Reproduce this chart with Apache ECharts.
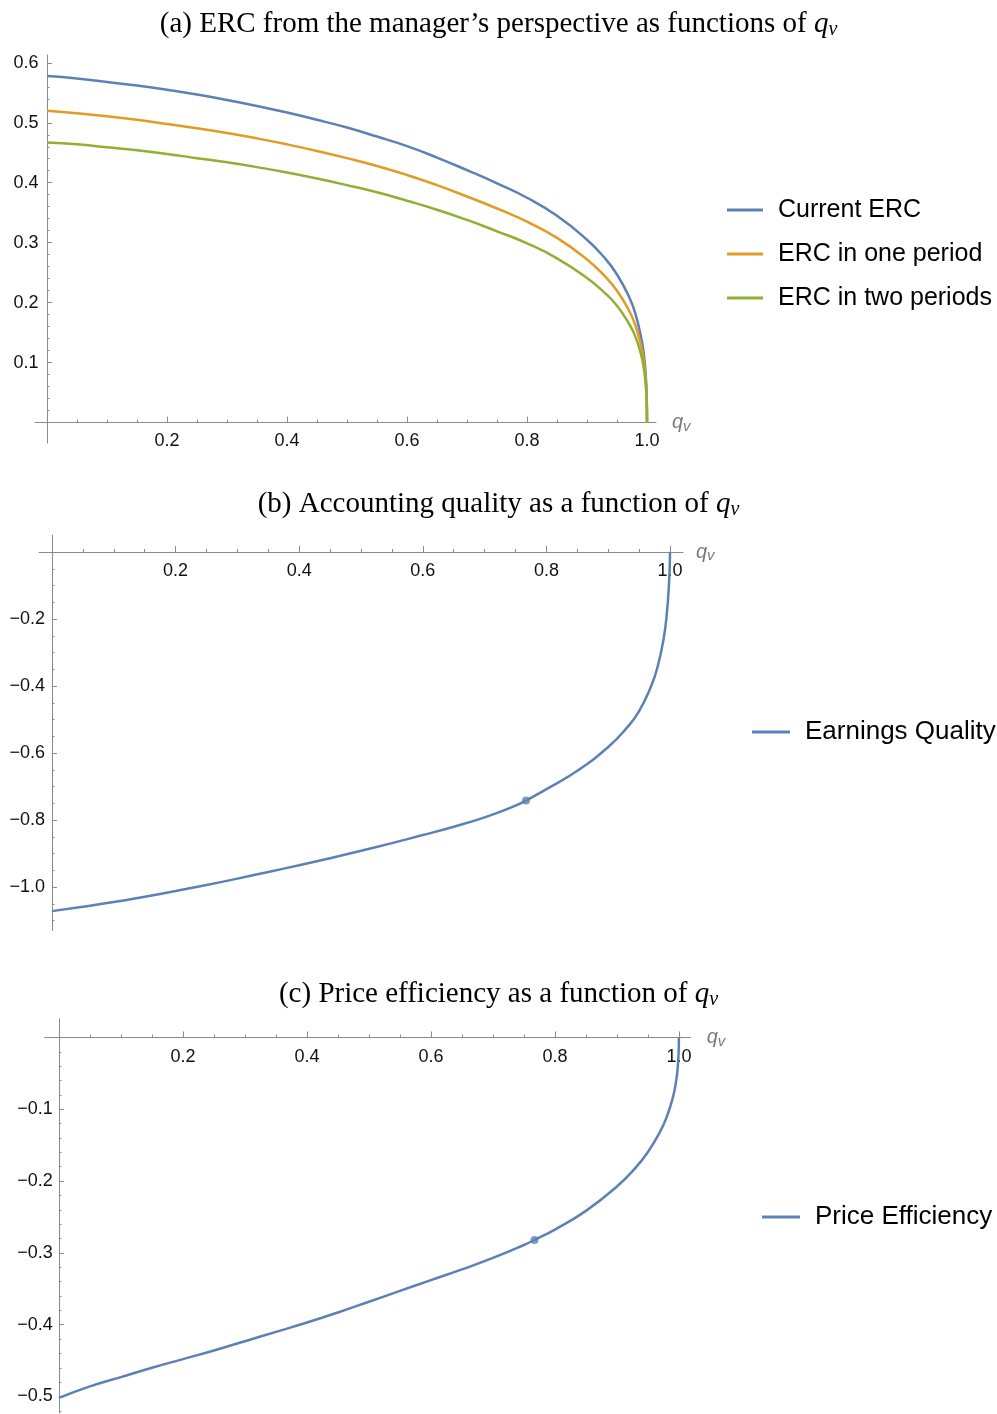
<!DOCTYPE html>
<html><head><meta charset="utf-8">
<script src="https://cdn.jsdelivr.net/npm/echarts@6/dist/echarts.min.js"></script>
<style>html,body{margin:0;padding:0;background:#fff}#c{width:997px;height:1414px}</style>
</head><body><div id="c"></div>
<script>
// ---------- data ----------
const qA = [0, 0.05, 0.1, 0.15, 0.2, 0.25, 0.3, 0.35, 0.4, 0.45, 0.5, 0.55, 0.6, 0.65, 0.7, 0.75, 0.8, 0.85, 0.9, 0.93, 0.95, 0.97, 0.98, 0.99, 0.995, 0.998, 0.9995, 1];
const currentERC = [0.578, 0.574, 0.568, 0.562, 0.555, 0.547, 0.538, 0.528, 0.517, 0.505, 0.492, 0.477, 0.461, 0.442, 0.421, 0.399, 0.375, 0.345, 0.305, 0.274, 0.247, 0.210, 0.184, 0.143, 0.112, 0.078, 0.045, 0];
const ercOnePeriod = [0.520, 0.516, 0.511, 0.505, 0.498, 0.491, 0.483, 0.474, 0.464, 0.453, 0.441, 0.428, 0.413, 0.396, 0.377, 0.357, 0.335, 0.308, 0.272, 0.244, 0.220, 0.187, 0.164, 0.129, 0.100, 0.069, 0.040, 0];
const ercTwoPeriods = [0.467, 0.464, 0.459, 0.454, 0.448, 0.441, 0.434, 0.426, 0.417, 0.407, 0.396, 0.384, 0.370, 0.355, 0.338, 0.319, 0.299, 0.274, 0.241, 0.216, 0.195, 0.165, 0.145, 0.114, 0.088, 0.061, 0.035, 0];

const qB = [0, 0.05, 0.1, 0.15, 0.2, 0.25, 0.3, 0.35, 0.4, 0.45, 0.5, 0.55, 0.6, 0.65, 0.7, 0.75, 0.767, 0.8, 0.85, 0.9, 0.93, 0.95, 0.97, 0.98, 0.99, 0.995, 0.998, 0.9995, 1];
const earningsQuality = [-1.072, -1.059, -1.045, -1.029, -1.012, -0.994, -0.975, -0.955, -0.935, -0.914, -0.892, -0.869, -0.845, -0.820, -0.792, -0.757, -0.742, -0.708, -0.653, -0.582, -0.525, -0.475, -0.398, -0.342, -0.255, -0.180, -0.105, -0.045, 0];
const markerB = [0.767, -0.742];

const qC = [0, 0.05, 0.1, 0.15, 0.2, 0.25, 0.3, 0.35, 0.4, 0.45, 0.5, 0.55, 0.6, 0.65, 0.7, 0.75, 0.767, 0.8, 0.85, 0.9, 0.93, 0.95, 0.97, 0.98, 0.99, 0.995, 0.998, 0.9995, 1];
const priceEfficiency = [-0.502, -0.486, -0.473, -0.460, -0.448, -0.436, -0.423, -0.410, -0.397, -0.383, -0.368, -0.353, -0.338, -0.323, -0.307, -0.289, -0.282, -0.2675, -0.2415, -0.2075, -0.1815, -0.1595, -0.1305, -0.1115, -0.0845, -0.0635, -0.0425, -0.020, 0];
const markerC = [0.767, -0.282];

// ---------- tick labels ----------
const xMajor = [0.2, 0.4, 0.6, 0.8, 1.0];
const xMinor = [0.05, 0.1, 0.15, 0.25, 0.3, 0.35, 0.45, 0.5, 0.55, 0.65, 0.7, 0.75, 0.85, 0.9, 0.95];
const yMajorA = [0.1, 0.2, 0.3, 0.4, 0.5, 0.6];
const yMinorA = [0.02, 0.04, 0.06, 0.08, 0.12, 0.14, 0.16, 0.18, 0.22, 0.24, 0.26, 0.28, 0.32, 0.34, 0.36, 0.38, 0.42, 0.44, 0.46, 0.48, 0.52, 0.54, 0.56, 0.58];
const yMajorB = [-0.2, -0.4, -0.6, -0.8, -1.0];
const yMinorB = [-0.05, -0.1, -0.15, -0.25, -0.3, -0.35, -0.45, -0.5, -0.55, -0.65, -0.7, -0.75, -0.85, -0.9, -0.95, -1.05, -1.1];
const yMajorC = [-0.1, -0.2, -0.3, -0.4, -0.5];
const yMinorC = [-0.02, -0.04, -0.06, -0.08, -0.12, -0.14, -0.16, -0.18, -0.22, -0.24, -0.26, -0.28, -0.32, -0.34, -0.36, -0.38, -0.42, -0.44, -0.46, -0.48, -0.52];

const titles = [
  '(a) ERC from the manager\u2019s perspective as functions of {q|q}{v|v}',
  '(b) Accounting quality as a function of {q|q}{v|v}',
  '(c) Price efficiency as a function of {q|q}{v|v}'
];
const seriesNames = ['Current ERC', 'ERC in one period', 'ERC in two periods', 'Earnings Quality', 'Price Efficiency'];
const colors = ['#5e81b5', '#e19c24', '#8fb032'];

// ---------- styles ----------
const AX = '#8a8a8a';
const LBL = { fontFamily: 'Liberation Sans', fontSize: 18, color: '#111' };
const fmt = v => (v < 0 ? '\u2212' : '') + Math.abs(v).toFixed(1);
const titleRich = {
  q: { fontFamily: 'Liberation Serif', fontStyle: 'italic', fontSize: 29, color: '#000' },
  v: { fontFamily: 'Liberation Serif', fontStyle: 'italic', fontSize: 20, color: '#000', padding: [12, 0, 0, 0] }
};
const nameRich = {
  q: { fontFamily: 'Liberation Sans', fontStyle: 'italic', fontSize: 20, color: '#7a7a7a' },
  v: { fontFamily: 'Liberation Sans', fontStyle: 'italic', fontSize: 15, color: '#7a7a7a', padding: [8, 0, 0, 0] }
};

function xMajorAxis(grid, pos, min, max, labelInside, tickInside, gap, margin) {
  return {
    type: 'value', gridIndex: grid, position: pos, min: min, max: max,
    axisLine: { show: true, onZero: true, lineStyle: { color: AX, width: 1 } },
    axisTick: { show: true, inside: tickInside, length: 6, customValues: xMajor, lineStyle: { color: AX } },
    axisLabel: Object.assign({ show: true, inside: labelInside, margin: margin, customValues: xMajor, formatter: fmt }, LBL),
    splitLine: { show: false },
    name: '{q|q}{v|v}', nameLocation: 'end', nameGap: gap,
    nameTextStyle: { rich: nameRich, verticalAlign: 'middle' }
  };
}
function xMinorAxis(grid, pos, min, max, tickInside) {
  return {
    type: 'value', gridIndex: grid, position: pos, min: min, max: max,
    axisLine: { show: false, onZero: true },
    axisTick: { show: true, inside: tickInside, length: 3, customValues: xMinor, lineStyle: { color: AX } },
    axisLabel: { show: false }, splitLine: { show: false }
  };
}
function yMajorAxis(grid, min, max, ticks, margin) {
  return {
    type: 'value', gridIndex: grid, position: 'left', min: min, max: max,
    axisLine: { show: true, onZero: true, lineStyle: { color: AX, width: 1 } },
    axisTick: { show: true, inside: true, length: 5, customValues: ticks, lineStyle: { color: AX } },
    axisLabel: Object.assign({ show: true, margin: margin, customValues: ticks, formatter: fmt }, LBL),
    splitLine: { show: false }
  };
}
function yMinorAxis(grid, min, max, ticks) {
  return {
    type: 'value', gridIndex: grid, position: 'right', min: min, max: max,
    axisLine: { show: false, onZero: true },
    axisTick: { show: true, inside: false, length: 2.5, customValues: ticks, lineStyle: { color: AX } },
    axisLabel: { show: false }, splitLine: { show: false }
  };
}
function pairs(xs, ys) { return xs.map((x, i) => [x, ys[i]]); }
function lineSeries(name, color, xi, yi, data) {
  return {
    name: name, type: 'line', xAxisIndex: xi, yAxisIndex: yi, data: data,
    symbol: 'none', showSymbol: false, smooth: 0.5, smoothConstraint: false,
    lineStyle: { color: color, width: 2.5 }, itemStyle: { color: color },
    emphasis: { disabled: true }, animation: false, z: 3
  };
}
function legend(names, left, top, w, fs) {
  return {
    data: names, orient: 'vertical', left: left, top: top, padding: 0,
    icon: 'rect', itemWidth: w, itemHeight: 3, itemGap: 19, selectedMode: false,
    textStyle: { fontFamily: 'Liberation Sans', fontSize: fs, color: '#000', padding: [0, 0, 0, 10] }
  };
}

const chart = echarts.init(document.getElementById('c'), null, { renderer: 'canvas' });
chart.setOption({
  animation: false,
  backgroundColor: '#fff',
  title: [
    { text: titles[0], left: 'center', top: 3, textStyle: { fontFamily: 'Liberation Serif', fontSize: 29, fontWeight: 'normal', color: '#000', rich: titleRich } },
    { text: titles[1], left: 'center', top: 483, textStyle: { fontFamily: 'Liberation Serif', fontSize: 29, fontWeight: 'normal', color: '#000', rich: titleRich } },
    { text: titles[2], left: 'center', top: 973, textStyle: { fontFamily: 'Liberation Serif', fontSize: 29, fontWeight: 'normal', color: '#000', rich: titleRich } }
  ],
  legend: [
    legend(seriesNames.slice(0, 3), 727, 197.5, 36, 25),
    legend([seriesNames[3]], 752, 719, 38, 26),
    legend([seriesNames[4]], 762, 1204, 38, 26)
  ],
  grid: [
    { left: 35, top: 55, width: 621, height: 388, containLabel: false, outerBoundsMode: 'none' },
    { left: 39, top: 535.25, width: 644, height: 395.3, containLabel: false, outerBoundsMode: 'none' },
    { left: 44.7, top: 1018.8, width: 646, height: 394.2, containLabel: false, outerBoundsMode: 'none' }
  ],
  xAxis: [
    xMajorAxis(0, 'bottom', -0.02, 1.015, false, true, 16, -11),
    xMinorAxis(0, 'top', -0.02, 1.015, false),
    xMajorAxis(1, 'top', -0.021, 1.021, true, false, 13, 27),
    xMinorAxis(1, 'bottom', -0.021, 1.021, true),
    xMajorAxis(2, 'top', -0.023, 1.019, true, false, 16, 29),
    xMinorAxis(2, 'bottom', -0.023, 1.019, true)
  ],
  yAxis: [
    yMajorAxis(0, -0.034, 0.613, yMajorA, -3.5),
    yMinorAxis(0, -0.034, 0.613, yMinorA),
    yMajorAxis(1, -1.13, 0.05, yMajorB, -6),
    yMinorAxis(1, -1.13, 0.05, yMinorB),
    yMajorAxis(2, -0.523, 0.026, yMajorC, -8),
    yMinorAxis(2, -0.523, 0.026, yMinorC)
  ],
  series: [
    lineSeries(seriesNames[0], colors[0], 0, 0, pairs(qA, currentERC)),
    lineSeries(seriesNames[1], colors[1], 0, 0, pairs(qA, ercOnePeriod)),
    lineSeries(seriesNames[2], colors[2], 0, 0, pairs(qA, ercTwoPeriods)),
    lineSeries(seriesNames[3], colors[0], 2, 2, pairs(qB, earningsQuality)),
    { name: 'EQ point', type: 'scatter', xAxisIndex: 2, yAxisIndex: 2, data: [markerB], symbolSize: 8, itemStyle: { color: colors[0] }, z: 4, emphasis: { disabled: true } },
    lineSeries(seriesNames[4], colors[0], 4, 4, pairs(qC, priceEfficiency)),
    { name: 'PE point', type: 'scatter', xAxisIndex: 4, yAxisIndex: 4, data: [markerC], symbolSize: 8, itemStyle: { color: colors[0] }, z: 4, emphasis: { disabled: true } }
  ]
});
</script></body></html>
